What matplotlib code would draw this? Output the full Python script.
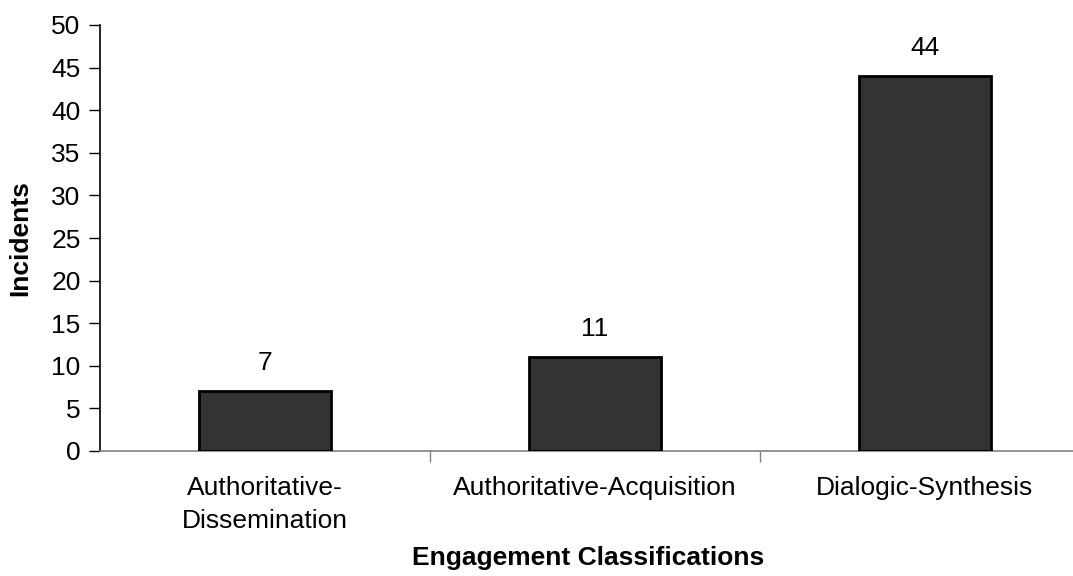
import matplotlib.pyplot as plt
import numpy as np

categories = ['Authoritative-\nDissemination', 'Authoritative-Acquisition', 'Dialogic-Synthesis']
incidents = [7, 11, 44]
y_ticks = [0, 5, 10, 15, 20, 25, 30, 35, 40, 45, 50]

plt.rcParams['font.family'] = ['Liberation Sans', 'DejaVu Sans']
fs = 19

fig = plt.figure(figsize=(10.73, 5.76), dpi=100)
# axes runs a bit past the right edge of the figure, like the original export
ax = fig.add_axes([100 / 1073, 125 / 576, 990 / 1073, 426 / 576])

x = np.arange(len(categories))
bars = ax.bar(x, incidents, width=0.4, color='#333333', edgecolor='black', linewidth=2, zorder=3)
for b, v in zip(bars, incidents):
    ax.text(b.get_x() + b.get_width() / 2, v + 1.9, str(v), ha='center', va='bottom', fontsize=fs)

ax.set_xlim(-0.5, len(categories) - 0.5)
ax.set_ylim(0, 50)
ax.set_yticks(y_ticks)
ax.tick_params(axis='y', labelsize=fs, length=8, width=1, pad=6)

ax.set_xticks(x)
ax.set_xticklabels(categories, fontsize=fs, linespacing=1.45)
ax.tick_params(axis='x', which='major', length=0, pad=18)
ax.set_xticks(x[:-1] + 0.5, minor=True)
ax.tick_params(axis='x', which='minor', length=8, width=1, color='#808080')

for s in ['top', 'right']:
    ax.spines[s].set_visible(False)
ax.spines['bottom'].set_color('#808080')
ax.spines['bottom'].set_linewidth(1.2)
ax.spines['left'].set_linewidth(1.2)

fig.text(20 / 1073, 1 - 238 / 576, 'Incidents', rotation=90, ha='center', va='center',
         fontsize=fs, fontweight='bold')
fig.text(588 / 1073, 1 - 558 / 576, 'Engagement Classifications', ha='center', va='center',
         fontsize=fs, fontweight='bold')

fig.savefig('out.png', dpi=100)
